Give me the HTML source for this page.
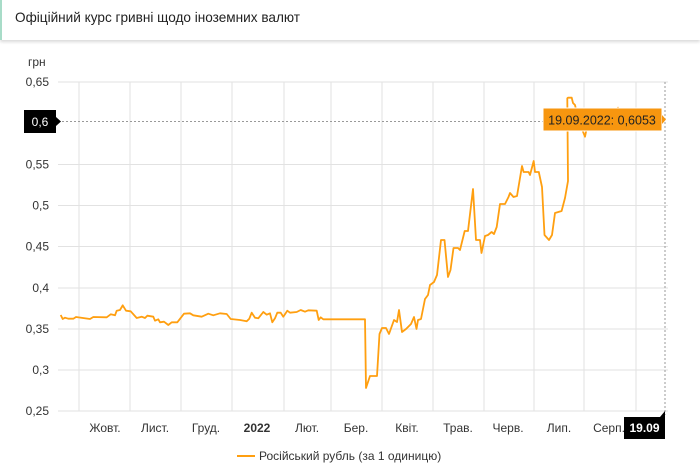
<!DOCTYPE html>
<html><head><meta charset="utf-8"><style>
body{margin:0;width:700px;height:473px;background:#fff;overflow:hidden;font-family:"Liberation Sans",sans-serif}
.hdr{position:absolute;left:0;top:0;width:698px;height:40px;border-left:2px solid #a8dcc8;box-shadow:0 2px 3px rgba(0,0,0,0.15);background:#fff}
.hdr span{position:absolute;left:13px;top:10px;font-size:13.6px;color:#222}
</style></head><body>
<div class="hdr"><span>Офіційний курс гривні щодо іноземних валют</span></div>
<svg width="700" height="473" style="position:absolute;left:0;top:0" font-family="Liberation Sans, sans-serif">
<g stroke="#e2e2e2" stroke-width="1">
<line x1="58" y1="82" x2="668" y2="82"/><line x1="58" y1="164.5" x2="668" y2="164.5"/><line x1="58" y1="205.5" x2="668" y2="205.5"/><line x1="58" y1="246.5" x2="668" y2="246.5"/><line x1="58" y1="288" x2="668" y2="288"/><line x1="58" y1="329" x2="668" y2="329"/><line x1="58" y1="370" x2="668" y2="370"/><line x1="58" y1="411" x2="668" y2="411"/>
<line x1="79" y1="82" x2="79" y2="411"/><line x1="130" y1="82" x2="130" y2="411"/><line x1="181" y1="82" x2="181" y2="411"/><line x1="232" y1="82" x2="232" y2="411"/><line x1="284" y1="82" x2="284" y2="411"/><line x1="331" y1="82" x2="331" y2="411"/><line x1="382" y1="82" x2="382" y2="411"/><line x1="433" y1="82" x2="433" y2="411"/><line x1="484" y1="82" x2="484" y2="411"/><line x1="534" y1="82" x2="534" y2="411"/><line x1="584" y1="82" x2="584" y2="411"/><line x1="636" y1="82" x2="636" y2="411"/>
</g>
<line x1="58" y1="121.5" x2="665" y2="121.5" stroke="#999" stroke-dasharray="2,2"/>
<line x1="665" y1="82" x2="665" y2="415" stroke="#999" stroke-dasharray="2,2"/>
<g font-size="12" fill="#333" text-anchor="end">
<text x="49" y="86">0,65</text><text x="49" y="168.5">0,55</text><text x="49" y="209.5">0,5</text><text x="49" y="250.5">0,45</text><text x="49" y="292">0,4</text><text x="49" y="333">0,35</text><text x="49" y="374">0,3</text><text x="49" y="415">0,25</text>
</g>
<text x="28" y="66" font-size="12" fill="#333">грн</text>
<g font-size="12" fill="#333" text-anchor="middle">
<text x="105" y="432">Жовт.</text><text x="155" y="432">Лист.</text><text x="206" y="432">Груд.</text><text x="257" y="432" font-weight="bold">2022</text><text x="307" y="432">Лют.</text><text x="356" y="432">Бер.</text><text x="407" y="432">Квіт.</text><text x="458" y="432">Трав.</text><text x="508" y="432">Черв.</text><text x="559" y="432">Лип.</text><text x="609" y="432">Серп.</text>
</g>
<polyline fill="none" stroke="#ff9f10" stroke-width="1.8" stroke-linejoin="round" points="60.7,315 62.7,319 65,317.7 68.3,318.7 73.3,318.7 76,317 90,319 93.3,317 106.7,317.3 110.7,314.3 115,315.3 116.7,310.7 120,310 122.7,305.3 126,310.7 130.7,311.3 136.7,318 141.7,316.7 145,318 147.3,315.7 153.3,316.7 155,320.7 158.3,319.3 160,322.3 164,321.7 168.3,325 171.7,322.3 177.3,322.3 184,313.7 190,313.3 193.3,315.3 201.7,316.7 208.3,313.7 213.3,315.3 220,313.3 226.7,314 230.7,319 240,320 246.7,321.3 249.3,318.7 251.7,312.7 255,317.7 258.3,318.3 263.3,312 266.7,314.7 270,313.3 272.3,322.3 275,318.3 277.3,312.7 280.7,312.7 283.3,316.7 287.3,310.7 290,312.7 296.7,312 300.7,310 305,311.7 308.3,310.3 316.7,310.7 318.7,320 320.7,317.3 323.3,319.3 365,319.3 366,388 370,376 377,376 379.5,334 382,328 386,328 389,334 394,320 397,322 399,310 402,332 406,329 411,324 414,317 416.5,329 418,320 421,319 425,299 428,295 430,285 434,282 437,275 441,240 444.5,240 448,277 450.5,270 453.5,248 458,248 460,250 464.7,231 468,231 473,189 476,240 480,240 481.5,253 485,236 488,235 491.6,232 494,234 496.7,227 500,204 505,204 508.5,197 510,193 513.5,197 517,196 522,166 523.6,172 528.6,172 530,175 533.7,161 535,172 538.8,172 542,187 544.5,235 549,240 552,235 555,213 561.6,211 565,198 568,181 567.3,98.3 568,97.7 571.7,97.7 573,103 575,105 578,118 583,131.7 585,136.7 588,122 595,118 605,116 612,112 618,107.7 622,115 630,120 664,121"/>
<rect x="543" y="108" width="119" height="23" fill="#f7960f" stroke="#fff" stroke-width="1"/>
<path d="M662,115 L666,119.5 L662,124 Z" fill="#f7960f"/>
<text x="602" y="124.5" font-size="12.5" fill="#222" text-anchor="middle">19.09.2022: 0,6053</text>
<rect x="24" y="110" width="32" height="23" fill="#000"/>
<path d="M56,117 L61,121.5 L56,126 Z" fill="#000"/>
<text x="40" y="126" font-size="12" fill="#fff" text-anchor="middle">0,6</text>
<rect x="624" y="417" width="41" height="22" fill="#000"/>
<path d="M660,417 L665,411 L665,417 Z" fill="#000"/>
<text x="644.5" y="432" font-size="12" fill="#fff" text-anchor="middle" font-weight="bold">19.09</text>
<line x1="237" y1="456" x2="255" y2="456" stroke="#ff9f10" stroke-width="2"/>
<text x="259" y="460" font-size="12" fill="#333">Російський рубль (за 1 одиницю)</text>
</svg>
</body></html>
